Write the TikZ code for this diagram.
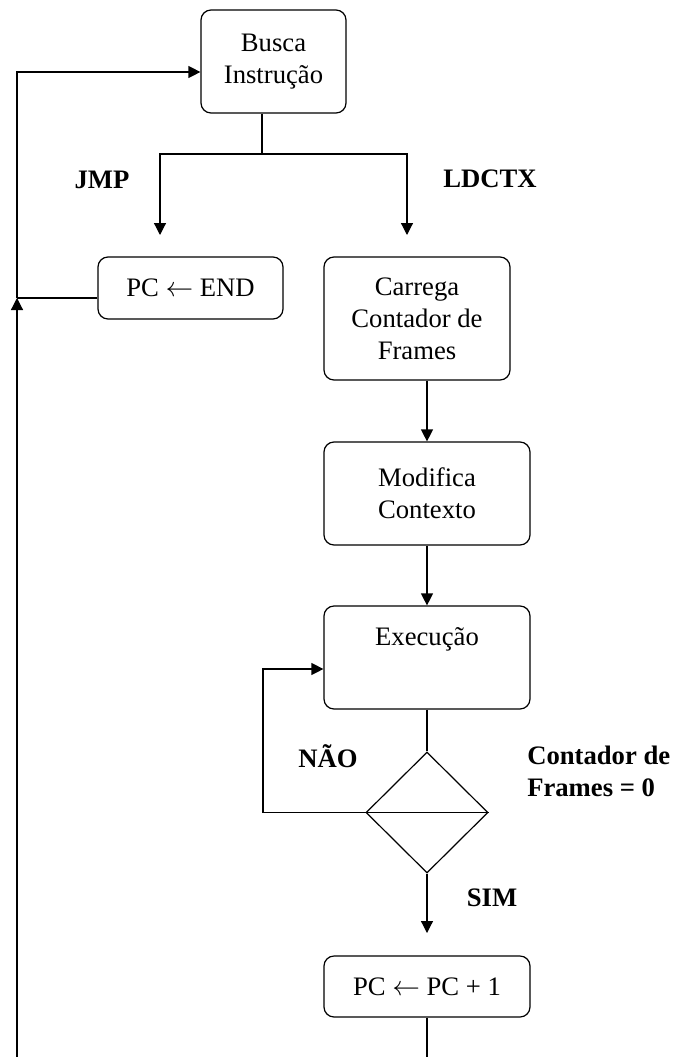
\documentclass[tikz,border=0pt]{standalone}
\usepackage{fontspec}
\setmainfont{Liberation Serif}
\usetikzlibrary{arrows.meta,shapes.geometric}
\begin{document}
\begin{tikzpicture}[x=0.75pt,y=-0.75pt,
  box/.style={draw, rounded corners=7.5pt, line width=0.9pt, align=center,
    inner sep=0pt, font=\fontsize{20}{24}\selectfont},
  decision/.style={draw, diamond, aspect=1, inner sep=0pt, line width=0.9pt,
    minimum width=91.5pt, minimum height=90.75pt},
  tag/.style={font=\fontsize{20}{24}\selectfont\bfseries, inner sep=0pt},
  link/.style={line width=0.9pt},
  flow/.style={link, -{Triangle[length=9pt,width=9pt]}}
]
\useasboundingbox (0,0) rectangle (674,1057);

% boxes
\node[box, minimum width=108.75pt, minimum height=77.25pt] (busca) at (273.5,61.5) {Busca\\Instrução};
\node[box, minimum width=138.75pt, minimum height=46.5pt] (pcend) at (190.5,288) {PC $\leftarrow$ END};
\node[box, minimum width=139.5pt, minimum height=92.25pt] (carrega) at (417,318.5) {Carrega\\Contador de\\Frames};
\node[box, minimum width=154.5pt, minimum height=77.25pt] (modifica) at (427,493.5) {Modifica\\Contexto};
\node[box, minimum width=154.5pt, minimum height=77.25pt] (exe) at (427,657.5) {Execução\\\strut};
\node[decision] (dia) at (427,812.5) {};
\node[box, minimum width=154.5pt, minimum height=45.75pt] (inc) at (427,986.5) {PC $\leftarrow$ PC + 1};

% labels
\node[tag] (jmp) at (102,180) {JMP};
\node[tag] (ldctx) at (490,179) {LDCTX};
\node[tag] (nao) at (328,756) {NÃO};
\node[tag] (sim) at (492,898) {SIM};
\node[tag, align=left, anchor=west] (cond) at (527,771) {Contador de\\Frames = 0};

% helper points
\coordinate (split) at (262,154);
\coordinate (jmpend) at (160,235);
\coordinate (ldend) at (407,235);
\coordinate (loopc) at (263,669);
\coordinate (simend) at (427,933);
\coordinate (bottomR) at (427,1057);
\coordinate (bottomL) at (17,1057);
\coordinate (back) at (17,298);
\coordinate (backtop) at (17,72);

% connectors
\draw[link] (busca.south -| split) -- (split);
\draw[flow] (split) -| (jmpend);
\draw[flow] (split) -| (ldend);
\draw[flow] (carrega.south -| modifica.north) -- (modifica.north);
\draw[flow] (modifica) -- (exe);
\draw[link] (exe) -- (dia);
\draw[flow] (dia.east) -- (dia.west) -- (dia.west -| loopc) -- (loopc) -- (exe.west |- loopc);
\draw[flow] (dia.south) -- (simend);
\draw[link] (inc.south) -- (bottomR);
\draw[flow] (bottomL) -- (back);
\draw[link] (pcend.west |- back) -- (back);
\draw[flow] (back) -- (backtop) -- (busca.west |- backtop);
\end{tikzpicture}
\end{document}
